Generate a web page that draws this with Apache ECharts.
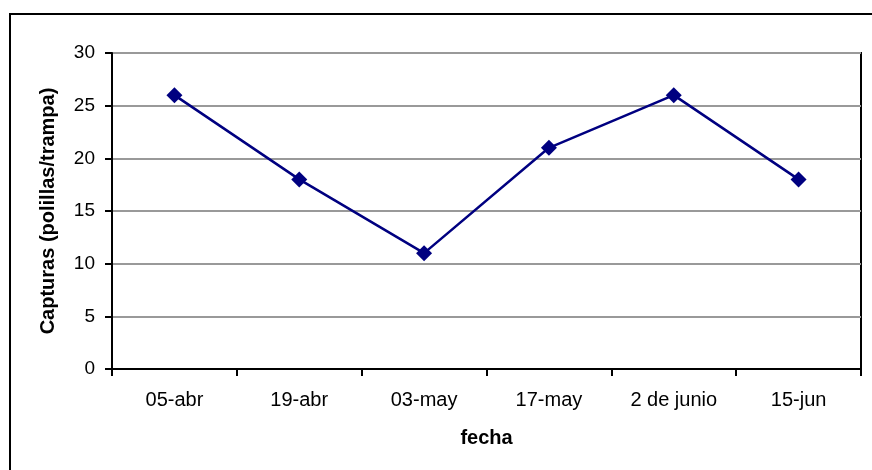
<!DOCTYPE html>
<html>
<head>
<meta charset="utf-8">
<script src="https://cdn.jsdelivr.net/npm/echarts@6/dist/echarts.min.js"></script>
<style>
  html, body { margin: 0; padding: 0; background: #fff; }
  #chart { width: 872px; height: 470px; }
</style>
</head>
<body>
<div id="chart"></div>
<script>
// Trap catches per sampling date
const fechas = ['05-abr', '19-abr', '03-may', '17-may', '2 de junio', '15-jun'];
const capturas = [26, 18, 11, 21, 26, 18];
const yTicks = { min: 0, max: 30, interval: 5 };

const chart = echarts.init(document.getElementById('chart'));
const font = 'Liberation Sans, Arial, sans-serif';

chart.setOption({
  animation: false,
  backgroundColor: '#fff',
  graphic: [{
    type: 'rect',
    shape: { x: 10, y: 14, width: 900, height: 500 },
    style: { fill: 'none', stroke: '#000', lineWidth: 2 },
    silent: true,
    z: -1
  }],
  grid: {
    left: 112, right: 11, top: 53, bottom: 101,
    show: true, borderColor: '#000', borderWidth: 2, backgroundColor: 'transparent'
  },
  xAxis: {
    type: 'category',
    data: fechas,
    boundaryGap: true,
    name: 'fecha',
    nameLocation: 'middle',
    nameGap: 59,
    nameTextStyle: { fontFamily: font, fontSize: 20, fontWeight: 'bold', color: '#000' },
    axisLine: { lineStyle: { color: '#000', width: 2 } },
    axisTick: { show: true, alignWithLabel: false, length: 7, lineStyle: { color: '#000', width: 2 } },
    axisLabel: { fontFamily: font, fontSize: 20, color: '#000', margin: 21 },
    splitLine: { show: false }
  },
  yAxis: {
    type: 'value',
    min: yTicks.min, max: yTicks.max, interval: yTicks.interval,
    name: 'Capturas (polillas/trampa)',
    nameLocation: 'middle',
    nameGap: 54,
    nameTextStyle: { fontFamily: font, fontSize: 20, fontWeight: 'bold', color: '#000' },
    axisLine: { show: true, lineStyle: { color: '#000', width: 2 } },
    axisTick: { show: true, length: 7, lineStyle: { color: '#000', width: 2 } },
    axisLabel: { fontFamily: font, fontSize: 19, color: '#000', margin: 17 },
    splitLine: { show: true, lineStyle: { color: '#999', width: 2 } }
  },
  series: [{
    type: 'line',
    data: capturas,
    symbol: 'diamond',
    symbolSize: 16,
    itemStyle: { color: '#000080' },
    lineStyle: { color: '#000080', width: 2.5 }
  }]
});
</script>
</body>
</html>
